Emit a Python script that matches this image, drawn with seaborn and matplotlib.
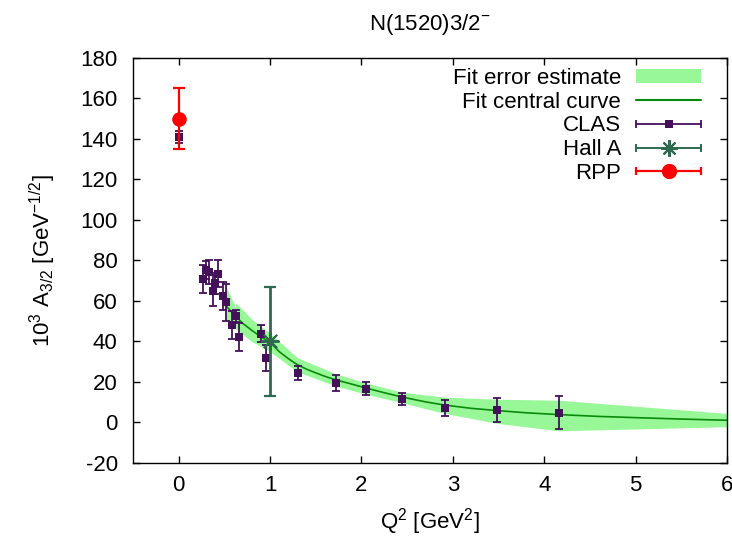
import matplotlib
matplotlib.use("Agg")
import matplotlib.pyplot as plt
import seaborn as sns
import numpy as np
import pandas as pd
from matplotlib.lines import Line2D
from matplotlib.patches import Patch
from matplotlib.legend_handler import HandlerLine2D, HandlerTuple

# ---------------- data ----------------
clas_q2 = [0.0, 0.27, 0.30, 0.33, 0.38, 0.40, 0.425, 0.48, 0.52, 0.58, 0.63, 0.655,
           0.905, 0.95, 1.30, 1.72, 2.05, 2.44, 2.91, 3.48, 4.16]
clas_a = [141.0, 70.9, 75.3, 74.2, 65.1, 68.7, 73.5, 62.5, 59.3, 48.3, 52.6, 42.2,
          43.9, 31.9, 24.6, 19.7, 16.7, 11.8, 7.3, 6.3, 4.9]
clas_err = [3.0, 7.0, 4.5, 6.0, 7.5, 5.0, 6.5, 7.0, 9.0, 7.0, 3.0, 7.0,
            4.0, 6.3, 3.4, 3.9, 3.3, 3.0, 3.9, 6.0, 8.0]

halla_q2 = [1.0]
halla_a = [40.0]
halla_err = [27.0]

rpp_q2 = [0.0]
rpp_a = [150.0]
rpp_err = [15.0]

fit_q2 = [0.52, 0.6, 0.7, 0.8, 0.9, 1.0, 1.1, 1.2, 1.3, 1.4, 1.5, 1.6, 1.72, 1.85,
          2.05, 2.25, 2.44, 2.7, 2.91, 3.2, 3.48, 3.8, 4.16, 4.6, 5.0, 5.5, 6.0]
fit_a = [57.5, 53.5, 49.0, 45.5, 42.3, 39.5, 35.0, 31.5, 28.5, 26.3, 24.5, 22.8, 21.0, 19.5,
         17.0, 14.7, 12.6, 10.2, 8.6, 7.0, 5.9, 4.8, 3.9, 3.0, 2.4, 1.7, 1.1]

band_q2 = [0.52, 0.62, 0.63, 0.8, 1.0, 1.3, 1.72, 2.05, 2.44, 2.91, 3.48, 4.16, 6.0]
band_hi = [67.0, 57.0, 59.0, 51.0, 44.0, 32.0, 24.0, 19.5, 15.0, 12.5, 11.5, 11.0, 4.5]
band_lo = [50.0, 47.0, 46.0, 40.0, 35.0, 25.0, 18.0, 14.0, 9.8, 4.5, -0.4, -4.1, -2.1]

x_ticks = [0, 1, 2, 3, 4, 5, 6]
y_ticks = [-20, 0, 20, 40, 60, 80, 100, 120, 140, 160, 180]

# ---------------- style ----------------
sns.set_theme(style="ticks")
plt.rcParams['font.family'] = ['Liberation Sans', 'DejaVu Sans']
plt.rcParams['mathtext.default'] = 'regular'
plt.rcParams['axes.unicode_minus'] = False
for k in ('text.color', 'axes.labelcolor', 'xtick.color', 'ytick.color', 'axes.edgecolor'):
    plt.rcParams[k] = 'black'
plt.rcParams['axes.linewidth'] = 1.0

c_band = '#98f898'
c_fit = '#0a8a0a'
c_clas = '#44105a'
c_halla = '#2d6a4f'
c_rpp = '#ff0000'

fig = plt.figure(figsize=(7.32, 5.40), dpi=100)
ax = fig.add_axes([0.1817, 0.1426, 0.8115, 0.75])

ax.fill_between(band_q2, band_lo, band_hi, color=c_band, linewidth=0, zorder=1)
fit_df = pd.DataFrame({'q2': fit_q2, 'a': fit_a})
sns.lineplot(data=fit_df, x='q2', y='a', ax=ax, color=c_fit, linewidth=1.2,
             zorder=2, legend=False)

ax.errorbar(clas_q2, clas_a, yerr=clas_err, fmt='none', ecolor=c_clas,
            elinewidth=1.3, capsize=3, capthick=1.3, zorder=3)
clas_df = pd.DataFrame({'q2': clas_q2, 'a': clas_a})
sns.scatterplot(data=clas_df, x='q2', y='a', ax=ax, marker='s', s=30,
                color=c_clas, edgecolor=c_clas, linewidth=0, zorder=4, legend=False)

ax.errorbar(halla_q2, halla_a, yerr=halla_err, fmt='none', ecolor=c_halla,
            elinewidth=2.0, capsize=4, capthick=1.6, zorder=5)
halla_df = pd.DataFrame({'q2': halla_q2, 'a': halla_a})
sns.scatterplot(data=halla_df, x='q2', y='a', ax=ax, marker=(8, 2, 0), s=150,
                color=c_halla, edgecolor=c_halla, linewidth=1.4, zorder=6, legend=False)

ax.errorbar(rpp_q2, rpp_a, yerr=rpp_err, fmt='none', ecolor=c_rpp,
            elinewidth=1.6, capsize=4, capthick=1.6, zorder=7)
rpp_df = pd.DataFrame({'q2': rpp_q2, 'a': rpp_a})
sns.scatterplot(data=rpp_df, x='q2', y='a', ax=ax, marker='o', s=110,
                color=c_rpp, edgecolor=c_rpp, linewidth=0, zorder=8, legend=False)

ax.set_xlim(-0.5, 6)
ax.set_ylim(-20, 180)
ax.set_xticks(x_ticks)
ax.set_yticks(y_ticks)
ax.tick_params(direction='in', length=5, width=1, top=True, right=True,
               labelsize=16, color='black')
ax.tick_params(axis='y', pad=11)
ax.tick_params(axis='x', pad=9)
for s in ax.spines.values():
    s.set_color('black')
    s.set_visible(True)

ax.set_title(r'N(1520)3/2$^{-}$', fontsize=16, pad=20)
ax.set_xlabel(r'Q$^2$ [GeV$^2$]', fontsize=16, labelpad=7)
ax.set_ylabel(r'10$^3$ A$_{3/2}$ [GeV$^{-1/2}$]', fontsize=16, labelpad=16)

# ---------------- legend (gnuplot style) ----------------
h_band = Patch(facecolor=c_band, edgecolor='none')
h_fit = Line2D([], [], color=c_fit, linewidth=1.5)

def eb_handle(color, marker, ms, lw, mew=0):
    bar = Line2D([], [], color=color, linewidth=lw, marker='|', markersize=6,
                 markeredgewidth=lw)
    mk = Line2D([], [], color=color, linestyle='none', marker=marker,
                markersize=ms, markeredgewidth=mew, markeredgecolor=color)
    return bar, mk

b_clas, m_clas = eb_handle(c_clas, 's', 6, 1.3)
b_halla, m_halla = eb_handle(c_halla, (8, 2, 0), 12, 1.4, mew=1.5)
b_rpp, m_rpp = eb_handle(c_rpp, 'o', 11, 1.6)

hmap = {
    b_clas: HandlerLine2D(numpoints=2, marker_pad=0),
    b_halla: HandlerLine2D(numpoints=2, marker_pad=0),
    b_rpp: HandlerLine2D(numpoints=2, marker_pad=0),
    tuple: HandlerTuple(ndivide=1, pad=0),
}
for m in (m_clas, m_halla, m_rpp):
    hmap[m] = HandlerLine2D(numpoints=1)

leg = ax.legend([h_band, h_fit, (b_clas, m_clas), (b_halla, m_halla), (b_rpp, m_rpp)],
                ['Fit error estimate', 'Fit central curve', 'CLAS', 'Hall A', 'RPP'],
                handler_map=hmap, loc='upper right', bbox_to_anchor=(0.956, 0.975),
                frameon=False, markerfirst=False, fontsize=16, handlelength=2.9,
                handleheight=0.6, handletextpad=0.7, labelspacing=0.12,
                borderpad=0, borderaxespad=0)

fig.savefig('out.png', dpi=100)
